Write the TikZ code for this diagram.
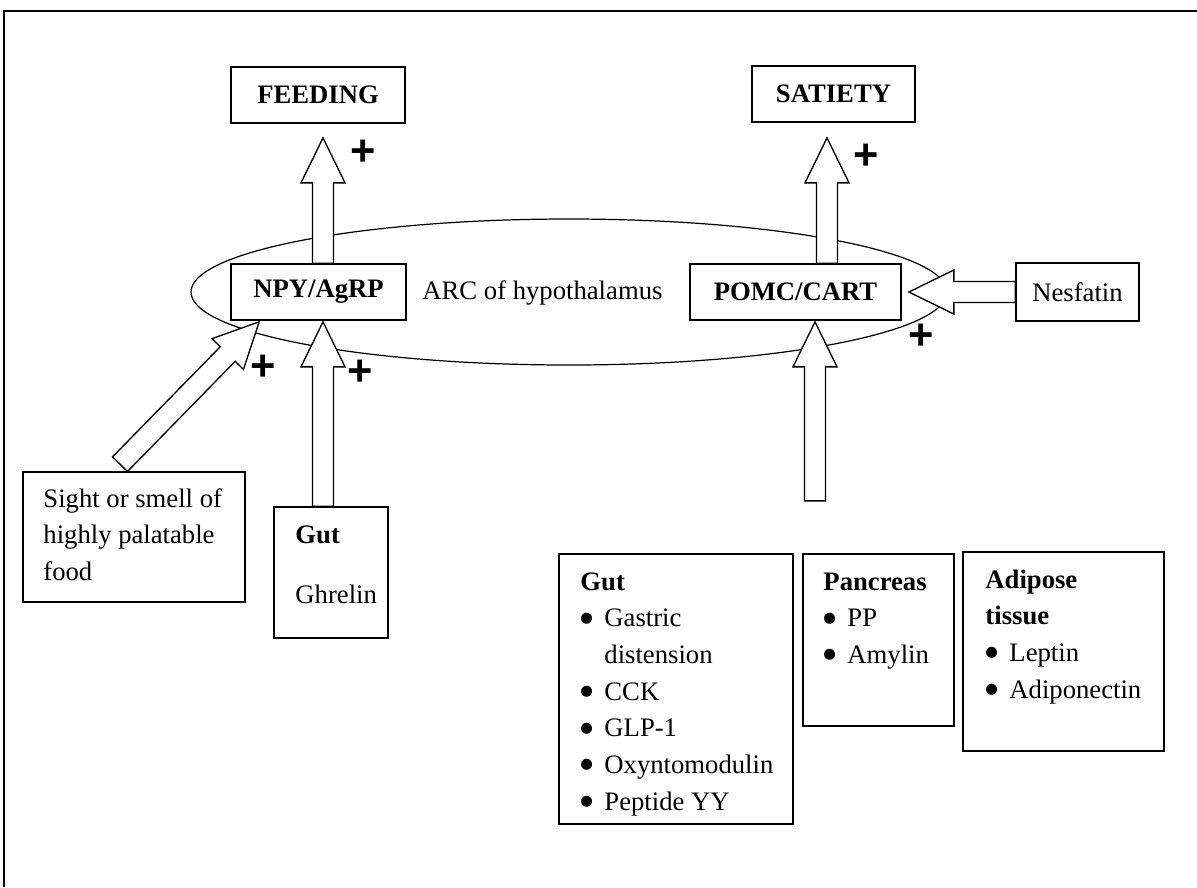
\documentclass[tikz,border=0pt]{standalone}
\usepackage{fontspec}
\setmainfont{Liberation Serif}
\newfontfamily\plusfont{Liberation Sans}
\newfontfamily\bulfont{DejaVu Sans}
\usetikzlibrary{calc,shapes.geometric}
\newcommand\mybul{\makebox[10.8pt][l]{\raisebox{2.1pt}{\bulfont\fontsize{6.5}{6.5}\selectfont ●}}}
\newcommand\blockarrow[2]{%
  \coordinate (bn) at ($(#2)!20.25pt!(#1)$);
  \draw[blockar] ($(#1)!4.7pt!-90:(#2)$) -- ($(bn)!4.7pt!-90:(#2)$) -- ($(bn)!9.9pt!-90:(#2)$) -- (#2)
     -- ($(bn)!9.9pt!90:(#2)$) -- ($(bn)!4.7pt!90:(#2)$) -- ($(#1)!4.7pt!90:(#2)$) -- cycle;}
\tikzset{
 boxn/.style={draw, line width=0.75pt, fill=white, inner sep=0pt, font=\fontsize{12}{16.5}\selectfont\bfseries},
 txt/.style={anchor=base west, inner sep=0pt, font=\fontsize{12}{16.5}\selectfont},
 plusn/.style={inner sep=0pt, font=\plusfont\bfseries\fontsize{19.5}{19.5}\selectfont},
 blockar/.style={draw, line width=0.6pt, fill=white, line join=miter},
}
\begin{document}
\begin{tikzpicture}[x=0.45pt,y=-0.45pt]
\useasboundingbox (0,0) rectangle (1197,887);
\draw[line width=1pt] (4,887) -- (4,11) -- (1197,11);

\node[draw, ellipse, line width=0.55pt, minimum width=340.2pt, minimum height=65.7pt, inner sep=0pt] (arc) at (569,292) {};

\node[boxn, minimum width=78.3pt, minimum height=25.2pt] (feed) at (318,95) {FEEDING};
\node[boxn, minimum width=73.35pt, minimum height=25.2pt] (sat) at (833.5,94) {SATIETY};
\node[boxn, minimum width=78.75pt, minimum height=25.2pt] (npy) at (318.5,292) {NPY/AgRP};
\node[boxn, minimum width=94.95pt, minimum height=25.2pt] (pomc) at (795.5,292) {POMC/CART};
\node[boxn, font=\fontsize{12}{16.5}\selectfont, minimum width=55.35pt, minimum height=26.1pt] (nes) at (1077.5,292) {Nesfatin};
\node[txt] (arctxt) at (422,299) {ARC of hypothalamus};

\node[boxn, minimum width=99.9pt, minimum height=58.5pt] (sight) at (134,537) {};
\node[boxn, minimum width=51.3pt, minimum height=58.95pt] (gut1) at (331,572.5) {};
\node[boxn, minimum width=105.3pt, minimum height=121.5pt] (gut2) at (676,689) {};
\node[boxn, minimum width=67.95pt, minimum height=77.4pt] (panc) at (878.5,640) {};
\node[boxn, minimum width=90.45pt, minimum height=89.55pt] (adip) at (1063.5,651.5) {};

\node[txt] (sighttxt) at (43,507) {\parbox[t]{95pt}{Sight or smell of\\highly palatable\\food}};
\node[txt] (gut1txt) at (295,543) {\parbox[t]{45pt}{\textbf{Gut}\\[10.5pt]Ghrelin}};
\node[txt] (gut2txt) at (580,590) {\parbox[t]{100pt}{\textbf{Gut}\\\mybul Gastric\\\hspace*{10.8pt}distension\\\mybul CCK\\\mybul GLP-1\\\mybul Oxyntomodulin\\\mybul Peptide YY}};
\node[txt] (panctxt) at (823,590) {\parbox[t]{62pt}{\textbf{Pancreas}\\\mybul PP\\\mybul Amylin}};
\node[txt] (adiptxt) at (985,588) {\parbox[t]{82pt}{\textbf{Adipose}\\\textbf{tissue}\\\mybul Leptin\\\mybul Adiponectin}};

\coordinate (a1t) at ($(npy.north)+(4.5,0)$);
\coordinate (a1h) at ($(feed.south)+(5,14)$);
\coordinate (a2t) at ($(pomc.north)+(31.5,0)$);
\coordinate (a2h) at ($(sat.south)+(-6.5,15)$);
\coordinate (a3h) at ($(pomc.east)+(7,0)$);
\coordinate (a4t) at ($(pomc.south)+(19.5,180)$);
\coordinate (a4h) at ($(pomc.south)+(19.5,1)$);
\coordinate (a5t) at ($(gut1.north)+(-8,0)$);
\coordinate (a5h) at ($(npy.south)+(4.5,1)$);
\coordinate (a6t) at ($(sight.north)+(-14,-7)$);
\coordinate (a6h) at ($(npy.south west)+(29,1)$);

\blockarrow{a1t}{a1h}
\blockarrow{a2t}{a2h}
\blockarrow{nes.west}{a3h}
\blockarrow{a4t}{a4h}
\blockarrow{a5t}{a5h}
\blockarrow{a6t}{a6h}

\node[plusn] (p1) at (363,153) {+};
\node[plusn] (p2) at (866,157) {+};
\node[plusn] (p3) at (921,337) {+};
\node[plusn] (p4) at (263,368) {+};
\node[plusn] (p5) at (360,373) {+};
\end{tikzpicture}
\end{document}
